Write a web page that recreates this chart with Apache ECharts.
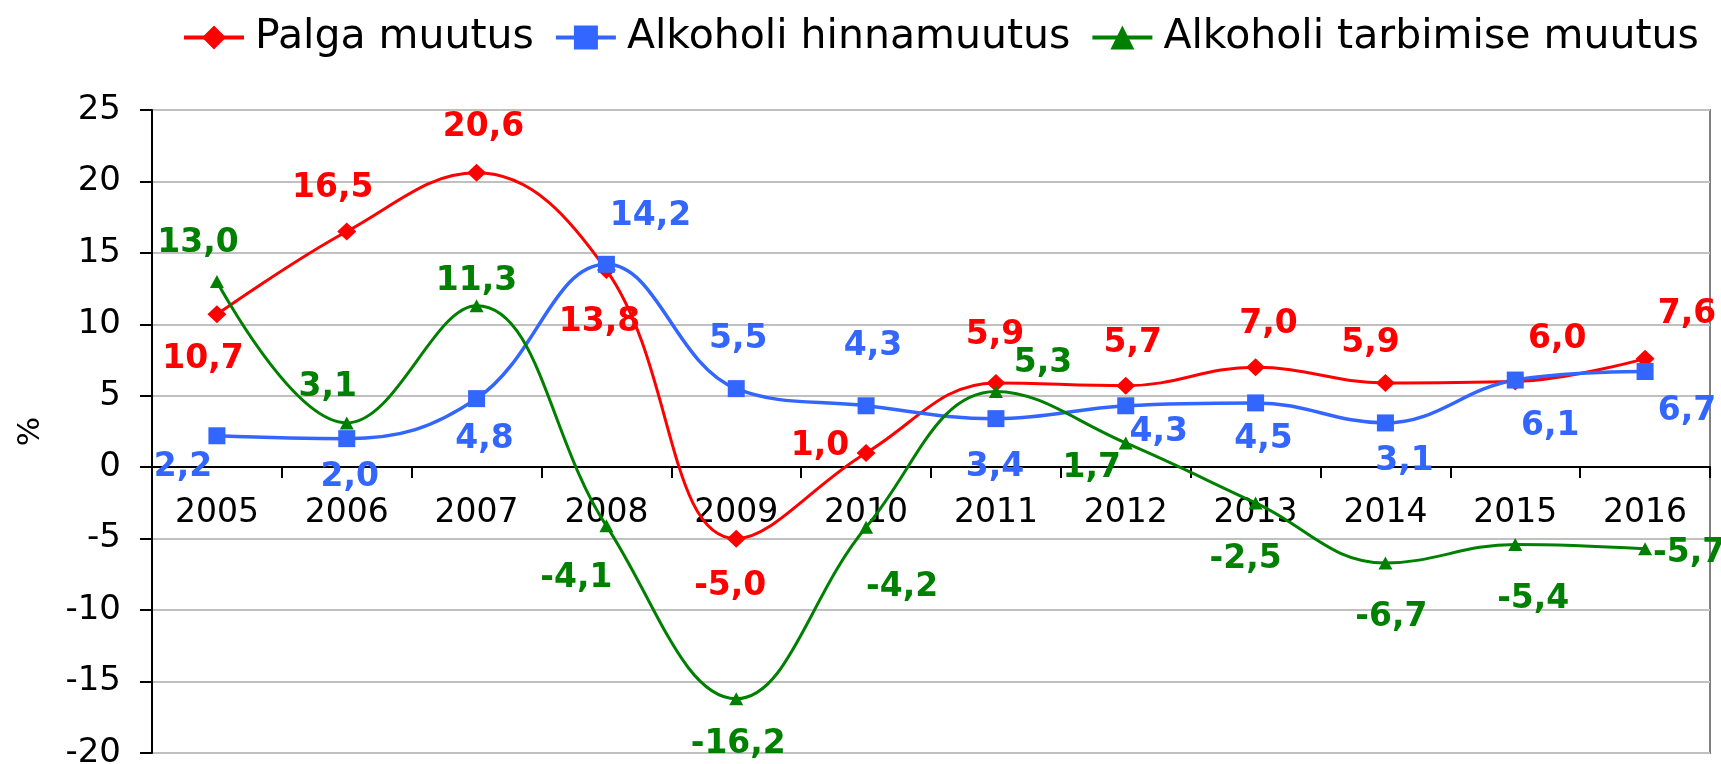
<!DOCTYPE html>
<html>
<head>
<meta charset="utf-8">
<script src="https://cdn.jsdelivr.net/npm/echarts@6/dist/echarts.min.js"></script>
<style>
  html, body { margin: 0; padding: 0; background: #fff; }
  #chart { width: 1721px; height: 764px; }
</style>
</head>
<body>
<div id="chart"></div>
<script>
const years = ['2005', '2006', '2007', '2008', '2009', '2010', '2011', '2012', '2013', '2014', '2015', '2016']
const palgaMuutus = [10.7, 16.5, 20.6, 13.8, -5.0, 1.0, 5.9, 5.7, 7.0, 5.9, 6.0, 7.6]
const hinnaMuutus = [2.2, 2.0, 4.8, 14.2, 5.5, 4.3, 3.4, 4.3, 4.5, 3.1, 6.1, 6.7]
const tarbimiseMuutus = [13.0, 3.1, 11.3, -4.1, -16.2, -4.2, 5.3, 1.7, -2.5, -6.7, -5.4, -5.7]

// label offsets (px) from each point, as placed by hand in the original
const palgaOffsets = [[-14, 45], [-14, -43], [7, -45], [-7, 52], [-6, 48], [-46, -7], [-1, -47], [7, -42], [13, -43], [-15, -39], [42, -42], [42, -44]]
const hinnaOffsets = [[-34, 32], [3, 39], [8, 41], [44, -48], [2, -49], [7, -59], [-1, 49], [33, 27], [8, 36], [19, 38], [35, 46], [42, 40]]
const tarbimiseOffsets = [[-19, -38], [-19, -36], [0, -24], [-30, 53], [2, 46], [36, 60], [47, -28], [-34, 25], [-10, 56], [6, 54], [18, 55], [44, 5]]

const gridTop = 110
const gridBottom = 11
const plotH = 764 - gridTop - gridBottom
const yMin = -20
const yMax = 25

const fmt = v => v.toFixed(1).replace('.', ',')

function withLabels(values, offsets) {
  return values.map((v, i) => ({
    value: v,
    label: { offset: offsets[i] }
  }))
}

function lineSeries(name, values, offsets, color, symbol, symbolSize, width) {
  return {
    name: name,
    type: 'line',
    smooth: 0.4,
    symbol: symbol,
    symbolSize: symbolSize,
    data: withLabels(values, offsets),
    lineStyle: { color: color, width: width },
    itemStyle: { color: color },
    label: {
      show: true,
      position: 'inside',
      color: color,
      fontFamily: 'DejaVu Sans',
      fontWeight: 'bold',
      fontSize: 33,
      formatter: p => fmt(p.value)
    },
    animation: false
  }
}

const chart = echarts.init(document.getElementById('chart'))
chart.setOption({
  legend: {
    left: 177,
    top: 12,
    itemWidth: 60,
    itemHeight: 30,
    itemGap: 20,
    lineStyle: { width: 4 },
    textStyle: {
      fontFamily: 'DejaVu Sans',
      fontSize: 41,
      color: '#000',
      padding: [0, 0, 0, 6]
    }
  },
  grid: {
    left: 152,
    right: 11,
    top: gridTop,
    bottom: gridBottom,
    outerBoundsMode: 'none',
    containLabel: false,
    show: true,
    borderColor: '#808080',
    borderWidth: 2
  },
  xAxis: {
    type: 'category',
    data: years,
    boundaryGap: true,
    // axis sits on the zero line
    offset: -Math.round(plotH * (0 - yMin) / (yMax - yMin)),
    axisLine: { onZero: false, lineStyle: { color: '#000', width: 2 } },
    axisTick: { show: true, length: 11, lineStyle: { color: '#000', width: 2 } },
    axisLabel: {
      margin: 30,
      color: '#000',
      fontFamily: 'DejaVu Sans',
      fontSize: 33
    },
    splitLine: { show: false }
  },
  yAxis: {
    type: 'value',
    min: yMin,
    max: yMax,
    interval: 5,
    name: '%',
    nameLocation: 'middle',
    nameGap: 106,
    nameRotate: 90,
    nameTextStyle: { color: '#000', fontFamily: 'DejaVu Sans', fontSize: 31 },
    axisLine: { show: true, lineStyle: { color: '#000', width: 2 } },
    axisTick: { show: true, length: 12, lineStyle: { color: '#000', width: 2 } },
    axisLabel: {
      margin: 31,
      color: '#000',
      fontFamily: 'DejaVu Sans',
      fontSize: 34
    },
    splitLine: { show: true, lineStyle: { color: '#c0c0c0', width: 2 } }
  },
  series: [
    lineSeries('Palga muutus', palgaMuutus, palgaOffsets, '#ff0000', 'diamond', [19, 18], 3),
    lineSeries('Alkoholi hinnamuutus', hinnaMuutus, hinnaOffsets, '#3366ff', 'rect', 17, 3.5),
    lineSeries('Alkoholi tarbimise muutus', tarbimiseMuutus, tarbimiseOffsets, '#008000', 'triangle', [14, 13], 3)
  ]
})
</script>
</body>
</html>
